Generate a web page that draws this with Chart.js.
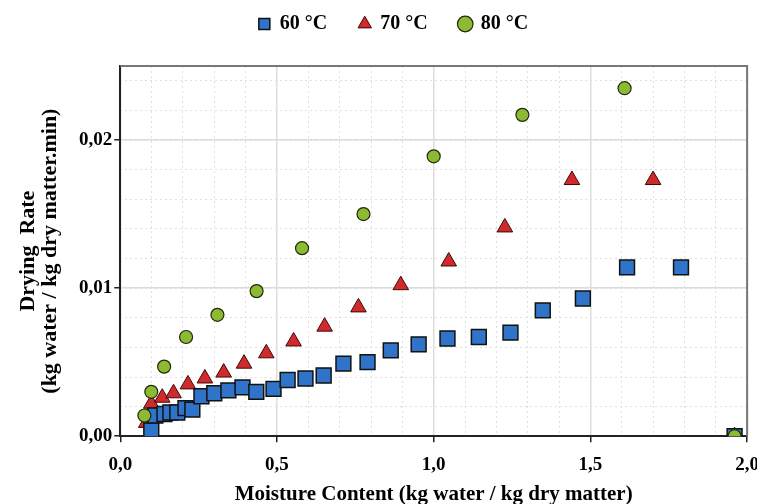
<!DOCTYPE html>
<html>
<head>
<meta charset="utf-8">
<script src="https://cdn.jsdelivr.net/npm/chart.js@4.4.1/dist/chart.umd.min.js"></script>
<style>
  html, body { margin: 0; padding: 0; background: #fff; overflow: hidden; }
  #wrap { width: 770px; height: 504px; }
</style>
</head>
<body>
<div id="wrap"><canvas id="myChart"></canvas></div>
<script>
// moisture content (x) and drying rate (y)
const temp60X = [0.099, 0.112, 0.141, 0.160, 0.182, 0.208, 0.230, 0.259, 0.300, 0.345, 0.390, 0.434, 0.489, 0.534, 0.591, 0.649, 0.712, 0.789, 0.863, 0.952, 1.044, 1.144, 1.245, 1.348, 1.476, 1.617, 1.789, 1.960];
const temp60Y = [0.0004, 0.0014, 0.0015, 0.0016, 0.0016, 0.0019, 0.0018, 0.0027, 0.0029, 0.0031, 0.0033, 0.0030, 0.0032, 0.0038, 0.0039, 0.0041, 0.0049, 0.0050, 0.0058, 0.0062, 0.0066, 0.0067, 0.0070, 0.0085, 0.0093, 0.0114, 0.0114, 0];

const temp70X = [0.083, 0.099, 0.134, 0.170, 0.216, 0.270, 0.330, 0.395, 0.466, 0.553, 0.652, 0.760, 0.895, 1.048, 1.227, 1.441, 1.700, 1.960];
const temp70Y = [0.0009, 0.0022, 0.0026, 0.0029, 0.0035, 0.0039, 0.0043, 0.0049, 0.0056, 0.0064, 0.0074, 0.0087, 0.0102, 0.0118, 0.0141, 0.0173, 0.0173, 0];

const temp80X = [0.077, 0.099, 0.140, 0.210, 0.310, 0.435, 0.580, 0.776, 1.000, 1.283, 1.609, 1.960];
const temp80Y = [0.0014, 0.0030, 0.0047, 0.0067, 0.0082, 0.0098, 0.0127, 0.0150, 0.0189, 0.0217, 0.0235, 0];

const seriesLabels = ["60 °C", "70 °C", "80 °C"];
const xTickLabels = ["0,0", "0,5", "1,0", "1,5", "2,0"];
const yTickLabels = ["0,00", "0,01", "0,02"];

function toPoints(xs, ys) {
  return xs.map((x, i) => ({ x: x, y: ys[i] }));
}

const serif = "'Liberation Serif', 'Times New Roman', serif";
const ctx = document.getElementById("myChart").getContext("2d");

const myChart = new Chart(ctx, {
  type: "scatter",
  data: {
    datasets: [
      {
        label: seriesLabels[0],
        data: toPoints(temp60X, temp60Y),
        pointStyle: "rect",
        pointRadius: 10.5,
        backgroundColor: "#2f74c8",
        borderColor: "#111",
        borderWidth: 1.5,
        order: 2,
      },
      {
        label: seriesLabels[1],
        data: toPoints(temp70X, temp70Y),
        pointStyle: "triangle",
        pointRadius: 9,
        backgroundColor: "#d22a2a",
        borderColor: "#3a0a0a",
        borderWidth: 1,
        order: 3,
      },
      {
        label: seriesLabels[2],
        data: toPoints(temp80X, temp80Y),
        pointStyle: "circle",
        pointRadius: 6.5,
        backgroundColor: "#8cba32",
        borderColor: "#1e2a08",
        borderWidth: 1.2,
        order: 1,
      },
    ],
  },
  options: {
    responsive: true,
    maintainAspectRatio: false,
    animation: false,
    layout: { padding: { left: 17, top: 2, bottom: -2, right: 0 } },
    plugins: {
      tooltip: { enabled: false },
      legend: {
        position: "top",
        labels: {
          usePointStyle: true,
          boxWidth: 11,
          boxHeight: 11,
          padding: 12,
          color: "#000",
          font: { family: serif, size: 20, weight: "bold" },
          sort: (a, b) => a.datasetIndex - b.datasetIndex,
          generateLabels: (chart) => {
            const items = Chart.defaults.plugins.legend.labels.generateLabels(chart);
            // extra room after the first two entries
            items.forEach((it) => {
              if (it.datasetIndex < 2) it.text = it.text + "    ";
            });
            return items;
          },
        },
      },
    },
    scales: {
      x: {
        type: "linear",
        min: 0,
        max: 2,
        border: { color: "#222", width: 2 },
        grid: { color: "#dcdcdc", lineWidth: 1.5, tickColor: "#222", tickLength: 6 },
        ticks: {
          stepSize: 0.5,
          padding: 11,
          color: "#000",
          font: { family: serif, size: 19, weight: "bold" },
          callback: (v) => xTickLabels[Math.round(v / 0.5)],
        },
        title: {
          display: true,
          text: "Moisture Content (kg water / kg dry matter)",
          color: "#000",
          font: { family: serif, size: 21, weight: "bold", lineHeight: 0.76 },
          padding: { top: 0, bottom: 3 },
        },
      },
      xMinor: {
        type: "linear",
        position: "bottom",
        min: 0,
        max: 2,
        display: true,
        border: { display: false, dash: [2, 3] },
        grid: { color: "#e0e0e0", drawTicks: false },
        ticks: { stepSize: 0.1, display: false },
      },
      y: {
        type: "linear",
        min: 0,
        max: 0.025,
        border: { color: "#222", width: 2 },
        grid: { color: "#dcdcdc", lineWidth: 1.5, tickColor: "#222", tickLength: 6 },
        ticks: {
          stepSize: 0.01,
          padding: 2,
          color: "#000",
          font: { family: serif, size: 19, weight: "bold" },
          callback: (v) => yTickLabels[Math.round(v / 0.01)],
        },
        title: {
          display: true,
          text: ["Drying  Rate", "(kg water / kg dry matter.min)"],
          color: "#000",
          font: { family: serif, size: 22, weight: "bold", lineHeight: 1.0 },
          padding: { top: 0, bottom: 16 },
        },
      },
      yMinor: {
        type: "linear",
        position: "left",
        min: 0,
        max: 0.025,
        display: true,
        border: { display: false, dash: [2, 3] },
        grid: { color: "#e0e0e0", drawTicks: false },
        ticks: { stepSize: 0.002, display: false },
      },
    },
  },
  plugins: [
    {
      id: "legendGap",
      beforeInit(chart) {
        const legend = chart.legend;
        if (!legend) return;
        const fit = legend.fit;
        legend.fit = function () {
          fit.call(this);
          this.height += 22;
        };
      },
    },
    {
      id: "frame",
      beforeDatasetsDraw(chart) {
        const a = chart.chartArea;
        const c = chart.ctx;
        c.save();
        c.strokeStyle = "#777";
        c.lineWidth = 2;
        c.beginPath();
        c.moveTo(a.left, a.top);
        c.lineTo(a.right, a.top);
        c.lineTo(a.right, a.bottom);
        c.stroke();
        c.restore();
      },
    },
  ],
});
</script>
</body>
</html>
